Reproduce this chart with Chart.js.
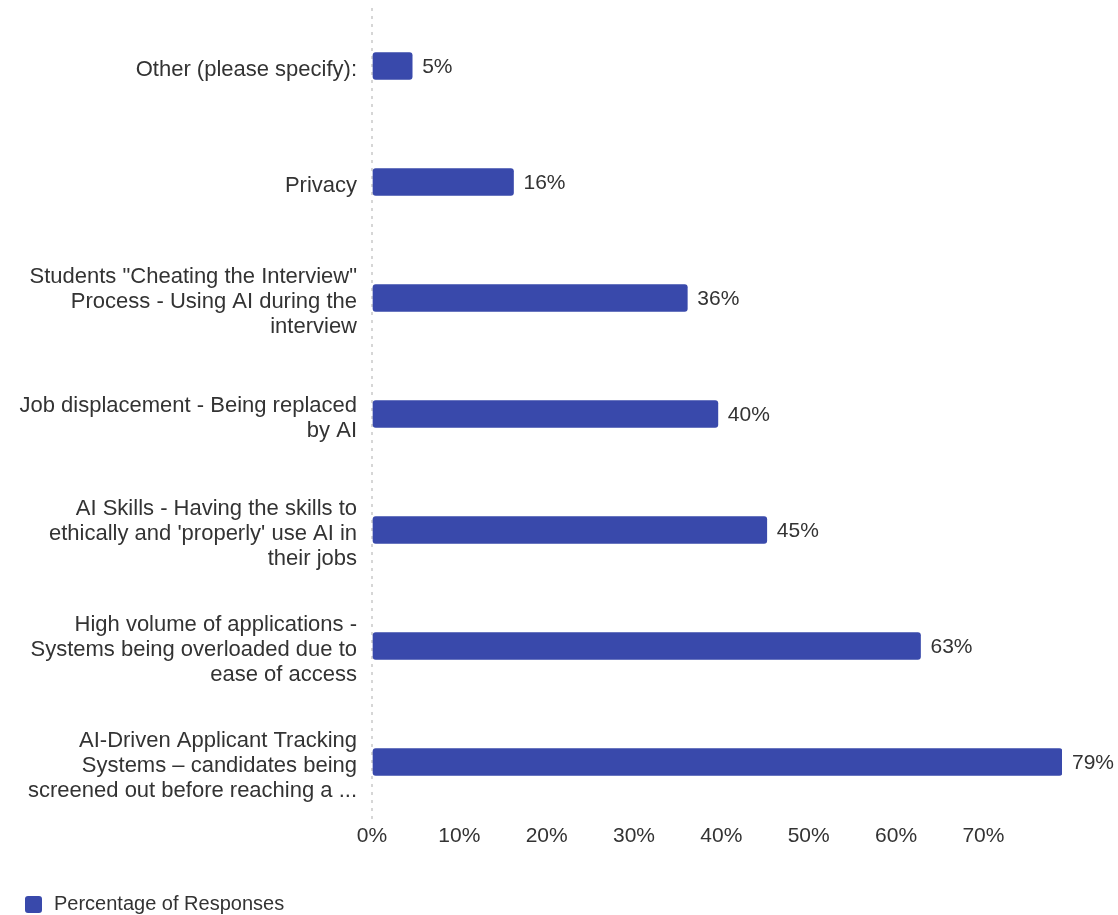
<!DOCTYPE html>
<html>
<head>
<meta charset="utf-8">
<script src="https://cdn.jsdelivr.net/npm/chart.js@4"></script>
<style>
html,body{margin:0;padding:0;background:#fff;}
#wrap{width:1118px;height:915px;position:relative;}
</style>
</head>
<body>
<div id="wrap"><canvas id="c" width="1118" height="915"></canvas></div>
<script>
const categories = [
  "Other (please specify):",
  "Privacy",
  ['Students "Cheating the Interview"', 'Process - Using AI during the', 'interview'],
  ['Job displacement - Being replaced', 'by AI'],
  ["AI Skills - Having the skills to", "ethically and 'properly' use AI in", "their jobs"],
  ['High volume of applications -', 'Systems being overloaded due to', 'ease of access'],
  ['AI-Driven Applicant Tracking', 'Systems – candidates being', 'screened out before reaching a ...']
];
const values = [4.6, 16.2, 36.1, 39.6, 45.2, 62.8, 79.0];
const valueLabels = ["5%", "16%", "36%", "40%", "45%", "63%", "79%"];
const seriesName = "Percentage of Responses";
const xTickMax = 79;

const FONT = "'Liberation Sans', Arial, Helvetica, sans-serif";
const TEXT = '#333333';
const BAR = '#3949AB';

const valueLabelPlugin = {
  id: 'valueLabels',
  afterDatasetsDraw(chart) {
    const ctx = chart.ctx;
    const meta = chart.getDatasetMeta(0);
    ctx.save();
    ctx.font = "21px " + FONT;
    ctx.fillStyle = TEXT;
    ctx.textAlign = 'left';
    ctx.textBaseline = 'middle';
    meta.data.forEach((el, i) => {
      ctx.fillText(valueLabels[i], el.x + 10, el.y + 1);
    });
    ctx.restore();
  }
};

new Chart(document.getElementById('c'), {
  type: 'bar',
  data: {
    labels: categories,
    datasets: [{
      label: seriesName,
      data: values,
      backgroundColor: BAR,
      borderColor: BAR,
      borderWidth: 0,
      borderRadius: 3,
      borderSkipped: false,
      barThickness: 27
    }]
  },
  options: {
    indexAxis: 'y',
    responsive: false,
    animation: false,
    devicePixelRatio: 1,
    layout: { padding: { top: 8, right: 56, bottom: -10, left: 13 } },
    scales: {
      x: {
        type: 'linear',
        min: 0,
        max: xTickMax,
        grid: {
          display: true,
          drawTicks: false,
          lineWidth: 2,
          color: c => (c.tick && c.tick.value === 0) ? '#d6d6d6' : 'rgba(0,0,0,0)'
        },
        border: { display: false, dash: [3, 5] },
        ticks: {
          stepSize: 10,
          includeBounds: false,
          color: TEXT,
          font: { family: FONT, size: 21 },
          padding: 4,
          callback: v => v + '%'
        },
        afterFit(scale) { scale.height = 64; }
      },
      y: {
        type: 'category',
        grid: { display: false, drawTicks: false },
        border: { display: false },
        ticks: {
          autoSkip: false,
          color: TEXT,
          padding: 15,
          labelOffset: 4,
          font: { family: FONT, size: 22, lineHeight: 1.14 }
        },
        afterFit(scale) {
          scale.width = 359;
          scale.paddingTop = 0;
          scale.paddingBottom = 0;
        }
      }
    },
    plugins: {
      legend: {
        position: 'bottom',
        align: 'start',
        labels: {
          color: TEXT,
          font: { family: FONT, size: 20 },
          boxWidth: 21,
          boxHeight: 21,
          useBorderRadius: true,
          borderRadius: 5,
          padding: 10,
          generateLabels(chart) {
            const items = Chart.defaults.plugins.legend.labels.generateLabels(chart);
            items.forEach(it => { it.lineWidth = 4; it.strokeStyle = '#ffffff'; it.fillStyle = BAR; });
            return items;
          }
        }
      },
      tooltip: { enabled: false }
    }
  },
  plugins: [valueLabelPlugin]
});
</script>
</body>
</html>
